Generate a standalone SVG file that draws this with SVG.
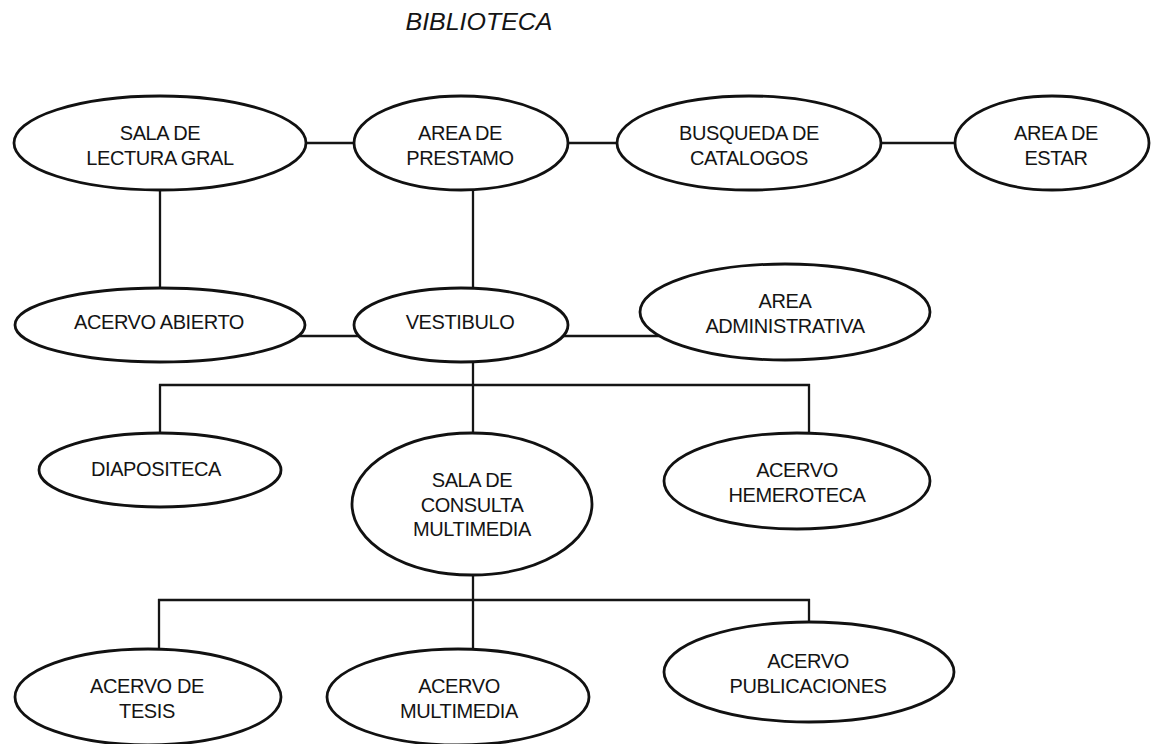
<svg xmlns="http://www.w3.org/2000/svg" width="1154" height="744" viewBox="0 0 1154 744">
<style>
  .bg { fill: #ffffff; }
  .node ellipse { fill: #ffffff; stroke: #111111; stroke-width: 2.8; }
  .node text { font-family: "Liberation Sans", Arial, sans-serif; font-size: 20px; letter-spacing: -0.4px; fill: #141414; text-anchor: middle; }
  .conn line { stroke: #151515; stroke-width: 2.3; }
  .title { font-family: "Liberation Sans", Arial, sans-serif; font-style: italic; font-size: 24px; fill: #141414; text-anchor: middle; }
</style>
<rect class="bg" x="0" y="0" width="1154" height="744"/>
<text class="title" x="479" y="30" textLength="147" lengthAdjust="spacingAndGlyphs">BIBLIOTECA</text>
<g id="connectors" class="conn">
  <line x1="300" y1="143" x2="360" y2="143"/>
  <line x1="562" y1="143" x2="623" y2="143"/>
  <line x1="876" y1="143" x2="960" y2="143"/>
  <line x1="160" y1="185" x2="160" y2="292"/>
  <line x1="473" y1="185" x2="473" y2="292"/>
  <line x1="295" y1="336" x2="365" y2="336"/>
  <line x1="560" y1="336" x2="665" y2="336"/>
  <line x1="473" y1="358" x2="473" y2="385"/>
  <line x1="159" y1="385" x2="810" y2="385"/>
  <line x1="160" y1="384" x2="160" y2="437"/>
  <line x1="473" y1="384" x2="473" y2="437"/>
  <line x1="809" y1="384" x2="809" y2="437"/>
  <line x1="473" y1="570" x2="473" y2="600"/>
  <line x1="158" y1="600" x2="810" y2="600"/>
  <line x1="159" y1="599" x2="159" y2="653"/>
  <line x1="473" y1="599" x2="473" y2="653"/>
  <line x1="809" y1="599" x2="809" y2="627"/>
</g>
<g id="sala-lectura" class="node">
  <ellipse cx="160" cy="143" rx="146" ry="47"/>
  <text x="160" y="140">SALA DE</text>
  <text x="160" y="165">LECTURA GRAL</text>
</g>
<g id="area-prestamo" class="node">
  <ellipse cx="461" cy="143" rx="107" ry="47"/>
  <text x="460" y="140">AREA DE</text>
  <text x="460" y="165">PRESTAMO</text>
</g>
<g id="busqueda" class="node">
  <ellipse cx="749" cy="143" rx="132" ry="47"/>
  <text x="749" y="140">BUSQUEDA DE</text>
  <text x="749" y="165">CATALOGOS</text>
</g>
<g id="area-estar" class="node">
  <ellipse cx="1052" cy="143" rx="97" ry="47"/>
  <text x="1056" y="140">AREA DE</text>
  <text x="1056" y="165">ESTAR</text>
</g>
<g id="acervo-abierto" class="node">
  <ellipse cx="160" cy="325" rx="145" ry="37"/>
  <text x="159" y="329">ACERVO ABIERTO</text>
</g>
<g id="vestibulo" class="node">
  <ellipse cx="461" cy="325" rx="107" ry="37"/>
  <text x="460" y="329">VESTIBULO</text>
</g>
<g id="area-administrativa" class="node">
  <ellipse cx="785" cy="312" rx="145" ry="48"/>
  <text x="785" y="308">AREA</text>
  <text x="785" y="333">ADMINISTRATIVA</text>
</g>
<g id="diapositeca" class="node">
  <ellipse cx="160" cy="470" rx="121" ry="37"/>
  <text x="156" y="476">DIAPOSITECA</text>
</g>
<g id="sala-consulta" class="node">
  <ellipse cx="472" cy="504" rx="120" ry="71"/>
  <text x="472" y="487">SALA DE</text>
  <text x="472" y="512">CONSULTA</text>
  <text x="472" y="536">MULTIMEDIA</text>
</g>
<g id="acervo-hemeroteca" class="node">
  <ellipse cx="797" cy="481" rx="133" ry="48"/>
  <text x="797" y="477">ACERVO</text>
  <text x="797" y="502">HEMEROTECA</text>
</g>
<g id="acervo-tesis" class="node">
  <ellipse cx="148" cy="697" rx="133" ry="48"/>
  <text x="147" y="693">ACERVO DE</text>
  <text x="147" y="718">TESIS</text>
</g>
<g id="acervo-multimedia" class="node">
  <ellipse cx="458" cy="697" rx="131" ry="48"/>
  <text x="459" y="693">ACERVO</text>
  <text x="459" y="718">MULTIMEDIA</text>
</g>
<g id="acervo-publicaciones" class="node">
  <ellipse cx="809" cy="672" rx="145" ry="50"/>
  <text x="808" y="668">ACERVO</text>
  <text x="808" y="693">PUBLICACIONES</text>
</g>
</svg>
